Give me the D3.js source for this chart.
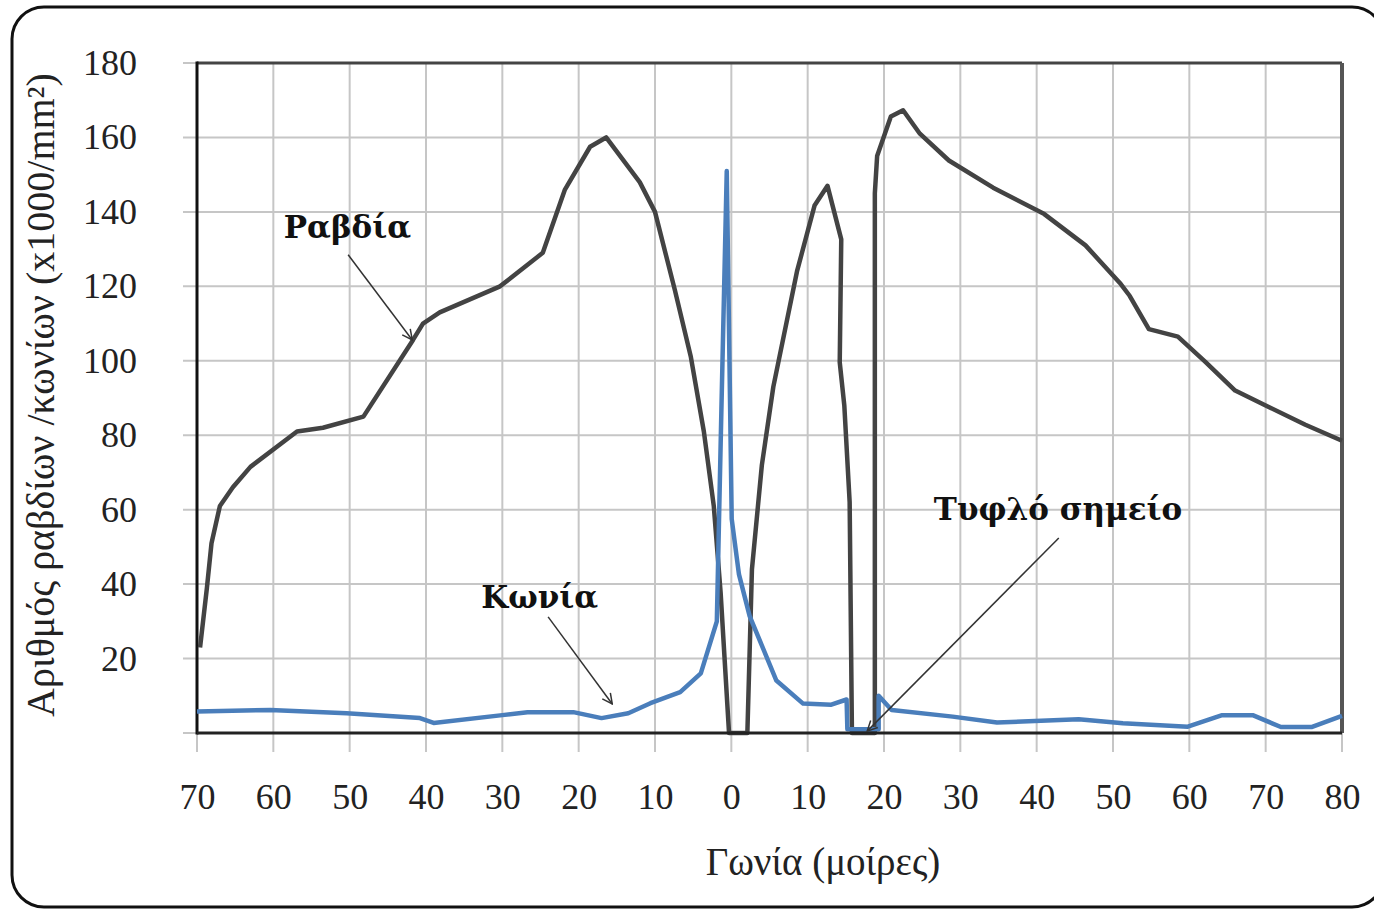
<!DOCTYPE html>
<html lang="el">
<head>
<meta charset="UTF-8">
<title>Ραβδία και κωνία</title>
<script src="https://cdn.jsdelivr.net/npm/d3@7"></script>
<style>
    body { margin: 0; background: #fff; }
    text { font-family: "Liberation Serif", "DejaVu Serif", serif; fill: #222; }
    text.note { font-family: "DejaVu Serif", serif; font-weight: bold; fill: #111; }
</style>
</head>
<body>
<div id="chart"></div>
<script>
    // values (angle in degrees, negative = nasal side)
    const rodAngle = [-69.6, -68.7, -68.1, -67, -65.3, -63, -56.9, -53.5, -48.2, -41.7, -40.4, -38.2, -30.3, -24.7, -21.8, -18.5, -16.4,
        -12, -10, -7.4, -5.3, -3.6, -2.3, -1.4, -0.3, 2.1, 2.7, 4.0, 5.5, 8.6, 10.9, 12.6, 14.4, 14.2, 14.8, 15.5, 15.8,
        18.8, 18.8, 19.1, 20.9, 22.5, 24.7, 28.5, 34.3, 41, 46.4, 50.9, 52.2, 54.7, 58.5, 62.1, 66, 70.6, 75.2, 80];
    const rodDensity = [23, 39, 51, 61, 66, 71.5, 81, 82, 85, 105.6, 110, 113, 120, 129, 146, 157.5, 160,
        148, 140, 119, 101, 81, 61, 37.6, 0, 0, 44, 72, 93, 124, 141.7, 147, 132.6, 99.6, 88, 62, 0,
        0, 145, 155, 165.6, 167.3, 161, 153.8, 146.5, 139.4, 131, 120.9, 117.4, 108.5, 106.5, 99.7, 92, 87.4, 82.8, 78.5];

    const coneAngle = [-70, -60.4, -50.4, -40.8, -39, -30, -26.7, -20.7, -17, -13.5, -10.6, -6.7, -4, -1.9, -1.3, -0.6,
        0.05, 1, 2.4, 5.9, 9.4, 13.1, 15.1, 15.2, 19.3, 19.3, 21, 29, 34.8, 45.5, 51.3, 59.8, 64.3, 68.3, 72, 76, 80];
    const coneDensity = [5.8, 6.2, 5.3, 4.0, 2.7, 4.8, 5.6, 5.6, 4.0, 5.3, 8.0, 11, 16, 30, 87, 151,
        57.5, 42.6, 31.4, 14.1, 7.9, 7.6, 9, 1, 1, 10, 6.2, 4.4, 2.8, 3.7, 2.6, 1.7, 4.8, 4.8, 1.6, 1.6, 4.6];

    const xTicks = [-70, -60, -50, -40, -30, -20, -10, 0, 10, 20, 30, 40, 50, 60, 70, 80];
    const yTicks = [0, 20, 40, 60, 80, 100, 120, 140, 160, 180];

    // labels with arrows: text position and arrow start/end in data units
    const noteText = ["Ραβδία", "Κωνία", "Τυφλό σημείο"];
    const noteX = [-50.3, -25.1, 42.8];
    const noteY = [133, 33.6, 57.3];
    const arrowFrom = [[-50.2, 128.5], [-24, 31.2], [42.9, 52.4]];
    const arrowTo = [[-41.8, 105.6], [-15.6, 7.8], [17.8, 0.5]];

    const width = 1374, height = 909;
    const margin = {top: 63, right: 32, bottom: 176, left: 197};

    const svg = d3.select("#chart").append("svg")
        .attr("width", width)
        .attr("height", height);

    // outer rounded frame
    svg.append("rect")
        .attr("x", 12).attr("y", 7)
        .attr("width", 1372).attr("height", 900)
        .attr("rx", 32)
        .attr("fill", "none")
        .attr("stroke", "#111")
        .attr("stroke-width", 3);

    const x = d3.scaleLinear().domain([-70, 80]).range([margin.left, width - margin.right]);
    const y = d3.scaleLinear().domain([0, 180]).range([height - margin.bottom, margin.top]);

    // grid
    svg.append("g").selectAll("line").data(yTicks).join("line")
        .attr("x1", x(-70) - 14).attr("x2", x(80))
        .attr("y1", d => y(d)).attr("y2", d => y(d))
        .attr("stroke", "#c6c6c6").attr("stroke-width", 2);
    svg.append("g").selectAll("line").data(xTicks).join("line")
        .attr("x1", d => x(d)).attr("x2", d => x(d))
        .attr("y1", y(180)).attr("y2", y(0) + 19)
        .attr("stroke", "#c6c6c6").attr("stroke-width", 2);

    // axes (labels only, tick lines drawn as grid above); no label at 0 on y
    const yAxis = svg.append("g")
        .attr("transform", "translate(" + x(-70) + ",0)")
        .call(d3.axisLeft(y).tickValues(yTicks.filter(d => d > 0)).tickSize(0).tickPadding(60));
    yAxis.select(".domain").remove();
    yAxis.selectAll("text")
        .attr("font-size", 36)
        .attr("fill", "#222");

    const xAxis = svg.append("g")
        .attr("transform", "translate(0," + y(0) + ")")
        .call(d3.axisBottom(x).tickValues(xTicks).tickSize(0).tickFormat(d => Math.abs(d)));
    xAxis.select(".domain").remove();
    xAxis.selectAll("text")
        .attr("y", 76)
        .attr("dy", null)
        .attr("font-size", 36)
        .attr("fill", "#222");

    // plot frame
    svg.append("line").attr("x1", x(-70)).attr("x2", x(80)).attr("y1", y(180)).attr("y2", y(180))
        .attr("stroke", "#444").attr("stroke-width", 3);
    svg.append("line").attr("x1", x(80)).attr("x2", x(80)).attr("y1", y(180)).attr("y2", y(0))
        .attr("stroke", "#555").attr("stroke-width", 4);
    svg.append("line").attr("x1", x(-70)).attr("x2", x(-70)).attr("y1", y(180) - 1.5).attr("y2", y(0) + 1.5)
        .attr("stroke", "#111").attr("stroke-width", 3);

    const line = d3.line()
        .x(d => x(d[0]))
        .y(d => y(d[1]));

    svg.append("path")
        .datum(d3.zip(rodAngle, rodDensity))
        .attr("fill", "none")
        .attr("stroke", "#434343")
        .attr("stroke-width", 4.5)
        .attr("stroke-linejoin", "round")
        .attr("d", line);

    svg.append("path")
        .datum(d3.zip(coneAngle, coneDensity))
        .attr("fill", "none")
        .attr("stroke", "#4a7ebb")
        .attr("stroke-width", 4.5)
        .attr("stroke-linejoin", "round")
        .attr("d", line);

    svg.append("line").attr("x1", x(-70)).attr("x2", x(80)).attr("y1", y(0)).attr("y2", y(0))
        .attr("stroke", "#222").attr("stroke-width", 3);

    // arrows + notes
    svg.append("defs").append("marker")
        .attr("id", "head")
        .attr("viewBox", "0 0 12 12")
        .attr("refX", 11).attr("refY", 6)
        .attr("markerWidth", 12).attr("markerHeight", 12)
        .attr("markerUnits", "userSpaceOnUse")
        .attr("orient", "auto")
        .append("path")
        .attr("d", "M1,1 L11,6 L1,11")
        .attr("fill", "none")
        .attr("stroke", "#333")
        .attr("stroke-width", 1.5);

    for (let i = 0; i < noteText.length; i++) {
        svg.append("line")
            .attr("x1", x(arrowFrom[i][0])).attr("y1", y(arrowFrom[i][1]))
            .attr("x2", x(arrowTo[i][0])).attr("y2", y(arrowTo[i][1]))
            .attr("stroke", "#333")
            .attr("stroke-width", 1.5)
            .attr("marker-end", "url(#head)");
        svg.append("text")
            .attr("class", "note")
            .attr("x", x(noteX[i]))
            .attr("y", y(noteY[i]))
            .attr("text-anchor", "middle")
            .attr("font-size", 31)
            .text(noteText[i]);
    }

    // axis titles
    svg.append("text")
        .attr("transform", "translate(54,395) rotate(-90)")
        .attr("text-anchor", "middle")
        .attr("font-size", 40)
        .text("Αριθμός ραβδίων /κωνίων (x1000/mm²)");

    svg.append("text")
        .attr("x", 823)
        .attr("y", 875)
        .attr("text-anchor", "middle")
        .attr("font-size", 39)
        .text("Γωνία (μοίρες)");
</script>
</body>
</html>
